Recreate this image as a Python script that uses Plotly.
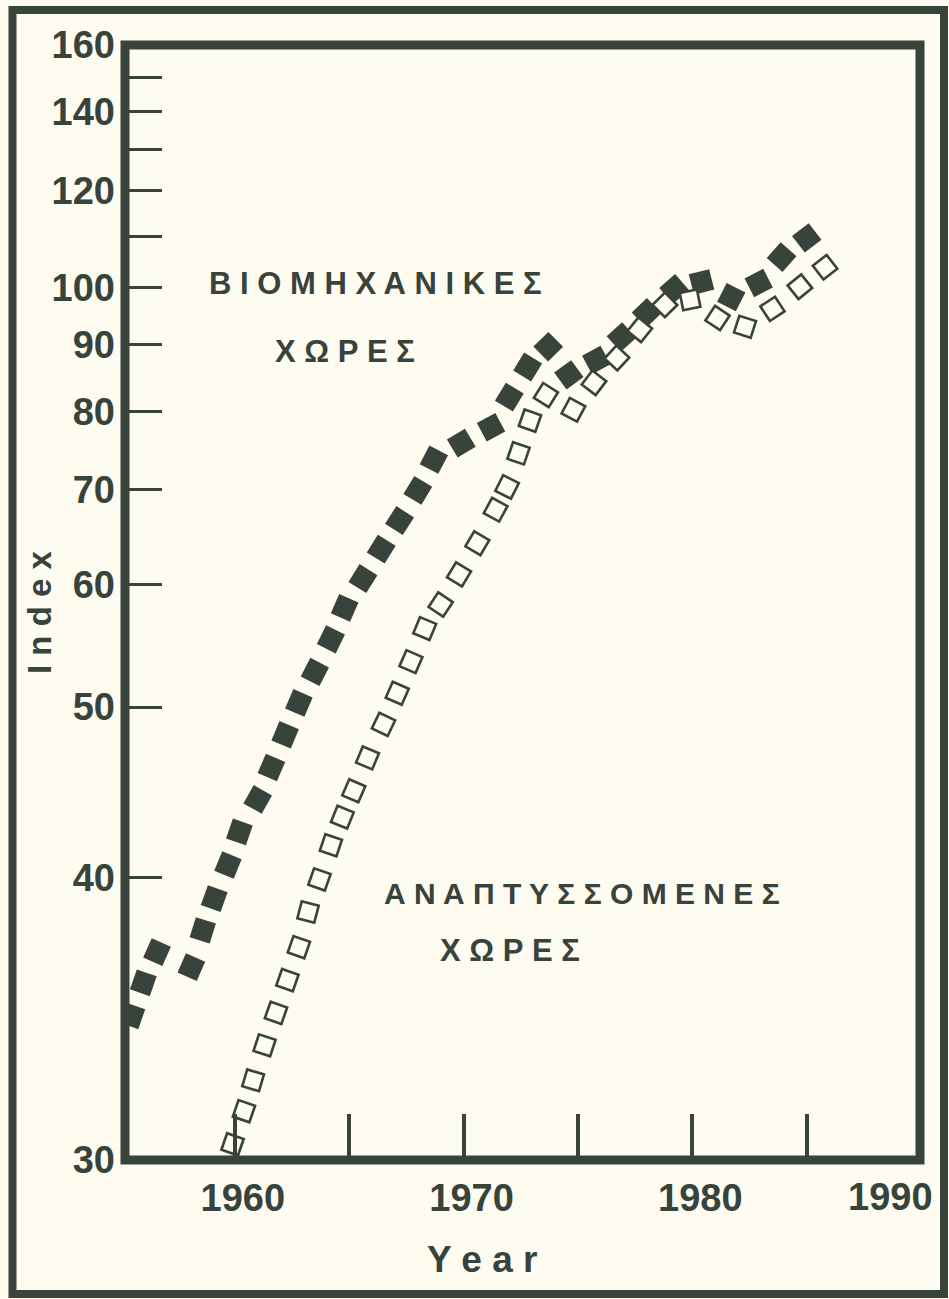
import numpy as np
import plotly.graph_objects as go

# ---------------- data ----------------
industrial_years = [1955.5, 1956.0, 1956.6, 1958.1, 1958.6, 1959.1, 1959.7, 1960.2, 1961.0, 1961.6,
                    1962.2, 1962.8, 1963.5, 1964.2, 1964.8, 1965.6, 1966.4, 1967.2, 1968.0, 1968.7,
                    1969.9, 1971.2, 1972.0, 1972.8, 1973.7, 1974.6, 1975.8, 1976.9, 1978.0, 1979.2,
                    1980.4, 1981.7, 1982.9, 1983.9, 1985.0]
industrial_index = [34.3, 35.5, 36.7, 36.1, 37.6, 39.0, 40.6, 42.3, 44.1, 46.0,
                    48.1, 50.3, 52.6, 55.2, 57.9, 60.6, 63.5, 66.5, 69.9, 73.6,
                    75.7, 77.8, 82.0, 86.5, 89.7, 85.3, 87.6, 91.3, 95.4, 99.7,
                    101.0, 98.2, 100.8, 105.8, 109.7]

developing_years = [1959.9, 1960.4, 1960.8, 1961.3, 1961.8, 1962.3, 1962.8, 1963.2, 1963.7, 1964.2,
                    1964.7, 1965.2, 1965.8, 1966.5, 1967.1, 1967.7, 1968.3, 1969.0, 1969.8, 1970.6,
                    1971.4, 1971.9, 1972.4, 1972.9, 1973.6, 1974.8, 1975.7, 1976.7, 1977.7, 1978.8,
                    1979.9, 1981.1, 1982.3, 1983.5, 1984.7, 1985.8]
developing_index = [30.4, 31.3, 32.2, 33.3, 34.4, 35.6, 36.9, 38.4, 39.9, 41.6,
                    43.1, 44.6, 46.6, 48.8, 51.0, 53.4, 56.1, 58.2, 61.0, 64.1,
                    67.7, 70.3, 74.4, 78.7, 82.3, 80.2, 84.1, 87.9, 92.5, 96.8,
                    97.7, 94.5, 93.0, 96.1, 100.1, 103.8]

y_tick_values = [30, 40, 50, 60, 70, 80, 90, 100, 110, 120, 130, 140, 150, 160]
y_tick_labels = ["30", "40", "50", "60", "70", "80", "90", "100", "", "120", "", "140", "", "160"]
x_tick_values = [1960, 1965, 1970, 1975, 1980, 1985]
x_tick_labels = ["1960", "", "1970", "", "1980", ""]

label_industrial = ["Β Ι Ο Μ Η Χ Α Ν Ι Κ Ε Σ", "Χ Ω Ρ Ε Σ"]
label_developing = ["Α Ν Α Π Τ Υ Σ Σ Ο Μ Ε Ν Ε Σ", "Χ Ω Ρ Ε Σ"]

# ---------------- scale: offset-logarithmic index axis ----------------
Y_OFFSET = 19.0


def yscale(v):
    return np.log10(np.asarray(v, dtype=float) - Y_OFFSET)


INK = "#37433b"
BG = "#fefbf1"
FONT = "Liberation Sans, Arial, sans-serif"

W, H = 949, 1299
L, R, T, B = 125, 29, 45, 139
PW, PH = W - L - R, H - T - B
X_RANGE = [1955.2, 1989.95]
Y_RANGE = [float(yscale(30)), float(yscale(160))]


def px(x):
    return (x - L) / PW


def py(y):
    return (H - B - y) / PH


def marker_angles(xs, ys):
    """Rotate each square along the local direction of its series (screen space)."""
    sx = PW / (X_RANGE[1] - X_RANGE[0])
    sy = PH / (Y_RANGE[1] - Y_RANGE[0])
    X = np.asarray(xs, dtype=float) * sx
    Y = -yscale(ys) * sy  # screen y points down
    dx = np.diff(X)
    dy = np.diff(Y)
    dx = np.concatenate([[dx[0]], dx])
    dy = np.concatenate([[dy[0]], dy])
    return np.degrees(np.arctan2(dy, dx)).tolist()


fig = go.Figure()
fig.add_trace(go.Scatter(
    x=industrial_years, y=yscale(industrial_index), mode="markers",
    marker=dict(symbol="square", size=21, color=INK,
                angle=marker_angles(industrial_years, industrial_index),
                line=dict(width=0)),
    cliponaxis=True, hoverinfo="skip"))
fig.add_trace(go.Scatter(
    x=developing_years, y=yscale(developing_index), mode="markers",
    marker=dict(symbol="square", size=17.5, color=BG,
                angle=marker_angles(developing_years, developing_index),
                line=dict(width=2.6, color=INK)),
    cliponaxis=True, hoverinfo="skip"))

fig.update_layout(
    width=W, height=H,
    margin=dict(l=L, r=R, t=T, b=B),
    paper_bgcolor=BG, plot_bgcolor=BG,
    showlegend=False,
    font=dict(family=FONT, color=INK),
    xaxis=dict(range=X_RANGE, showgrid=False, zeroline=False, showline=False,
               ticks="inside", ticklen=46, tickwidth=3.5, tickcolor=INK,
               tickmode="array", tickvals=x_tick_values, ticktext=x_tick_labels,
               tickfont=dict(size=38, weight="bold", color=INK, family=FONT),
               ticklabelshift=8, ticklabelstandoff=12),
    yaxis=dict(range=Y_RANGE, showgrid=False, zeroline=False,
               showline=False, ticks="inside", ticklen=37, tickwidth=3, tickcolor=INK,
               tickmode="array", tickvals=list(yscale(y_tick_values)), ticktext=y_tick_labels,
               tickfont=dict(size=38, weight="bold", color=INK, family=FONT),
               ticklabelstandoff=9),
)

# plot frame and outer page frame
fig.add_shape(type="rect", xref="paper", yref="paper", x0=0, x1=1, y0=0, y1=1,
              line=dict(color=INK, width=9), layer="above")
fig.add_shape(type="rect", xref="paper", yref="paper",
              x0=px(12.5), x1=px(944), y0=py(1294), y1=py(10),
              line=dict(color=INK, width=8), layer="above")

texts = [
    (label_industrial[0], 375, 283, 31),
    (label_industrial[1], 345, 352, 31),
    (label_developing[0], 582, 893, 30),
    (label_developing[1], 510, 950, 31),
]
for t, x, y, s in texts:
    fig.add_annotation(text=t, xref="paper", yref="paper", x=px(x), y=py(y),
                       showarrow=False, xanchor="center", yanchor="middle",
                       font=dict(family=FONT, size=s, color=INK, weight="bold"))

# extra x label at the right edge and axis titles
fig.add_annotation(text="1990", xref="paper", yref="paper", x=px(890), y=py(1197),
                   showarrow=False, xanchor="center", yanchor="middle",
                   font=dict(family=FONT, size=38, color=INK, weight="bold"))
fig.add_annotation(text="Y e a r", xref="paper", yref="paper", x=px(482), y=py(1259),
                   showarrow=False, xanchor="center", yanchor="middle",
                   font=dict(family=FONT, size=37, color=INK, weight="bold"))
fig.add_annotation(text="I n d e x", xref="paper", yref="paper", x=px(39), y=py(612),
                   showarrow=False, xanchor="center", yanchor="middle", textangle=-90,
                   font=dict(family=FONT, size=33, color=INK, weight="bold"))

fig.write_html("out.html", config={"displayModeBar": False},
               post_script="document.body.style.margin='0';document.body.style.background='%s';" % BG)
